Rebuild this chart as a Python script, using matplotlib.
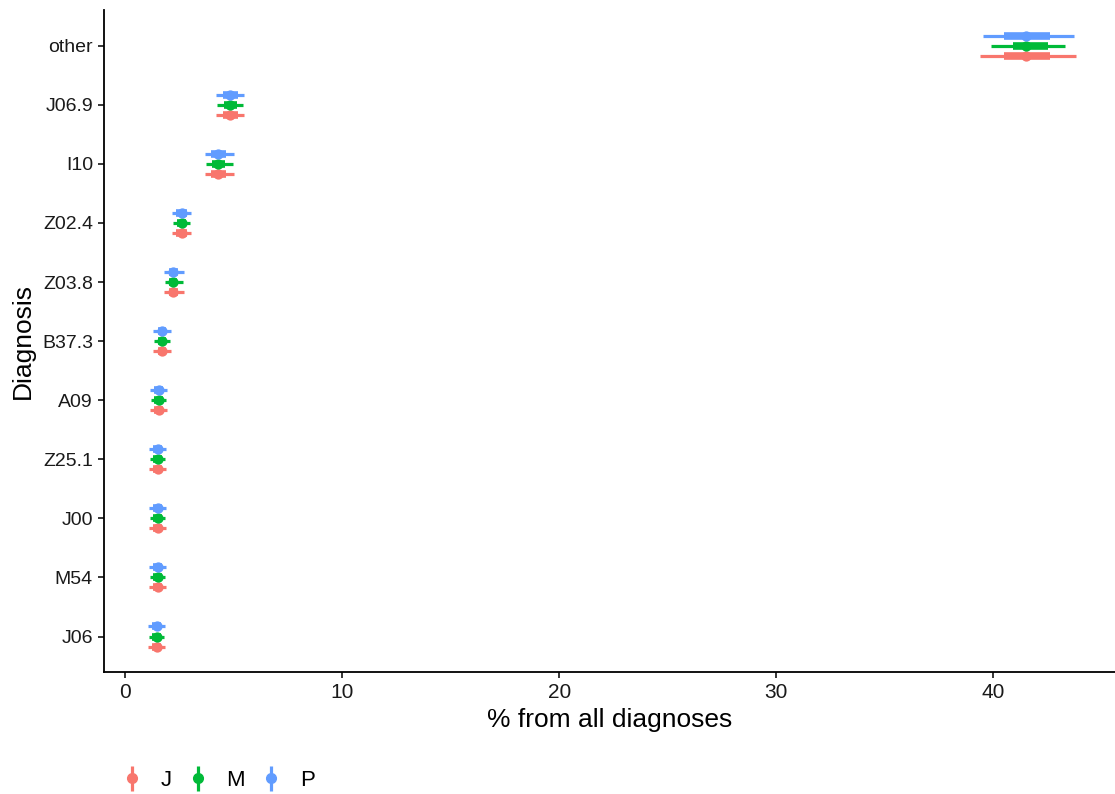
import numpy as np
import matplotlib
matplotlib.use("Agg")
import matplotlib.pyplot as plt
from matplotlib.lines import Line2D
from matplotlib.legend_handler import HandlerTuple

plt.rcParams['font.family'] = ['Liberation Sans', 'DejaVu Sans']

# diagnoses, bottom to top
diagnoses = ["J06", "M54", "J00", "Z25.1", "A09", "B37.3", "Z03.8", "Z02.4", "I10", "J06.9", "other"]
groups = ["J", "M", "P"]
colors = {"J": "#F8766D", "M": "#00BA38", "P": "#619CFF"}

# point estimate per diagnosis (same order as diagnoses)
mid = {
    "J": [1.45, 1.5, 1.5, 1.5, 1.55, 1.7, 2.2, 2.6, 4.3, 4.85, 41.5],
    "M": [1.45, 1.5, 1.5, 1.5, 1.55, 1.7, 2.2, 2.6, 4.3, 4.85, 41.5],
    "P": [1.45, 1.5, 1.5, 1.5, 1.55, 1.7, 2.2, 2.6, 4.3, 4.85, 41.5],
}
# inner (thick) interval
inner_lo = {
    "J": [1.25, 1.3, 1.3, 1.3, 1.35, 1.5, 2.0, 2.35, 3.95, 4.5, 40.5],
    "M": [1.25, 1.3, 1.3, 1.3, 1.35, 1.5, 2.0, 2.4, 4.0, 4.55, 40.9],
    "P": [1.25, 1.3, 1.3, 1.3, 1.35, 1.5, 2.0, 2.35, 3.95, 4.5, 40.5],
}
inner_hi = {
    "J": [1.65, 1.7, 1.7, 1.7, 1.75, 1.9, 2.45, 2.85, 4.65, 5.2, 42.6],
    "M": [1.65, 1.7, 1.7, 1.7, 1.75, 1.9, 2.4, 2.8, 4.6, 5.15, 42.5],
    "P": [1.65, 1.7, 1.7, 1.7, 1.75, 1.9, 2.45, 2.85, 4.65, 5.2, 42.6],
}
# outer (thin) interval
outer_lo = {
    "J": [1.05, 1.1, 1.1, 1.1, 1.15, 1.3, 1.8, 2.15, 3.7, 4.2, 39.4],
    "M": [1.1, 1.15, 1.15, 1.15, 1.2, 1.35, 1.85, 2.2, 3.75, 4.25, 39.9],
    "P": [1.05, 1.1, 1.1, 1.1, 1.15, 1.3, 1.8, 2.15, 3.7, 4.2, 39.5],
}
outer_hi = {
    "J": [1.85, 1.9, 1.9, 1.9, 1.95, 2.1, 2.7, 3.05, 5.0, 5.5, 43.8],
    "M": [1.8, 1.85, 1.85, 1.85, 1.9, 2.05, 2.65, 3.0, 4.95, 5.45, 43.3],
    "P": [1.85, 1.9, 1.9, 1.9, 1.95, 2.1, 2.7, 3.05, 5.0, 5.5, 43.7],
}

dodge = {"J": -0.17, "M": 0.0, "P": 0.17}

fig = plt.figure(figsize=(11.15, 7.94), dpi=100)
ax = fig.add_axes([0.0933, 0.1537, 0.9067, 0.8333])

ypos = np.arange(len(diagnoses))
for g in groups:
    y = ypos + dodge[g]
    c = colors[g]
    ax.hlines(y, outer_lo[g], outer_hi[g], color=c, lw=2.3, zorder=2)
    ax.hlines(y, inner_lo[g], inner_hi[g], color=c, lw=5.5, zorder=3)
    ax.scatter(mid[g], y, s=55, color=c, zorder=4, linewidths=0)

ax.set_yticks(ypos)
ax.set_yticklabels(diagnoses, fontsize=14)
ax.set_ylim(-0.6, len(diagnoses) - 0.4)
ax.set_xlim(-0.97, 45.6)
ax.set_xticks([0, 10, 20, 30, 40])
ax.tick_params(axis='x', labelsize=15, length=4, width=1.1, color='black', labelcolor='#1a1a1a', pad=4)
ax.tick_params(axis='y', length=4, width=1.1, color='black', labelcolor='#1a1a1a', pad=4)
for side in ['top', 'right']:
    ax.spines[side].set_visible(False)
for side in ['left', 'bottom']:
    ax.spines[side].set_linewidth(1.3)
ax.set_xlabel("% from all diagnoses", fontsize=19, labelpad=4)
ax.set_ylabel("Diagnosis", fontsize=19, labelpad=5)

handles = []
for g in groups:
    bar = Line2D([], [], color=colors[g], marker='|', markersize=18, markeredgewidth=2.3, linestyle='none')
    dot = Line2D([], [], color=colors[g], marker='o', markersize=7, linestyle='none')
    handles.append((bar, dot))
fig.legend(handles, groups, handler_map={tuple: HandlerTuple(ndivide=1)},
           loc='center left', bbox_to_anchor=(121 / 1115, 1 - 780 / 794), ncol=3, frameon=False,
           fontsize=16, handlelength=1.0, handletextpad=0.8, columnspacing=0.65,
           borderpad=0, borderaxespad=0)

fig.savefig("out.png", dpi=100)
